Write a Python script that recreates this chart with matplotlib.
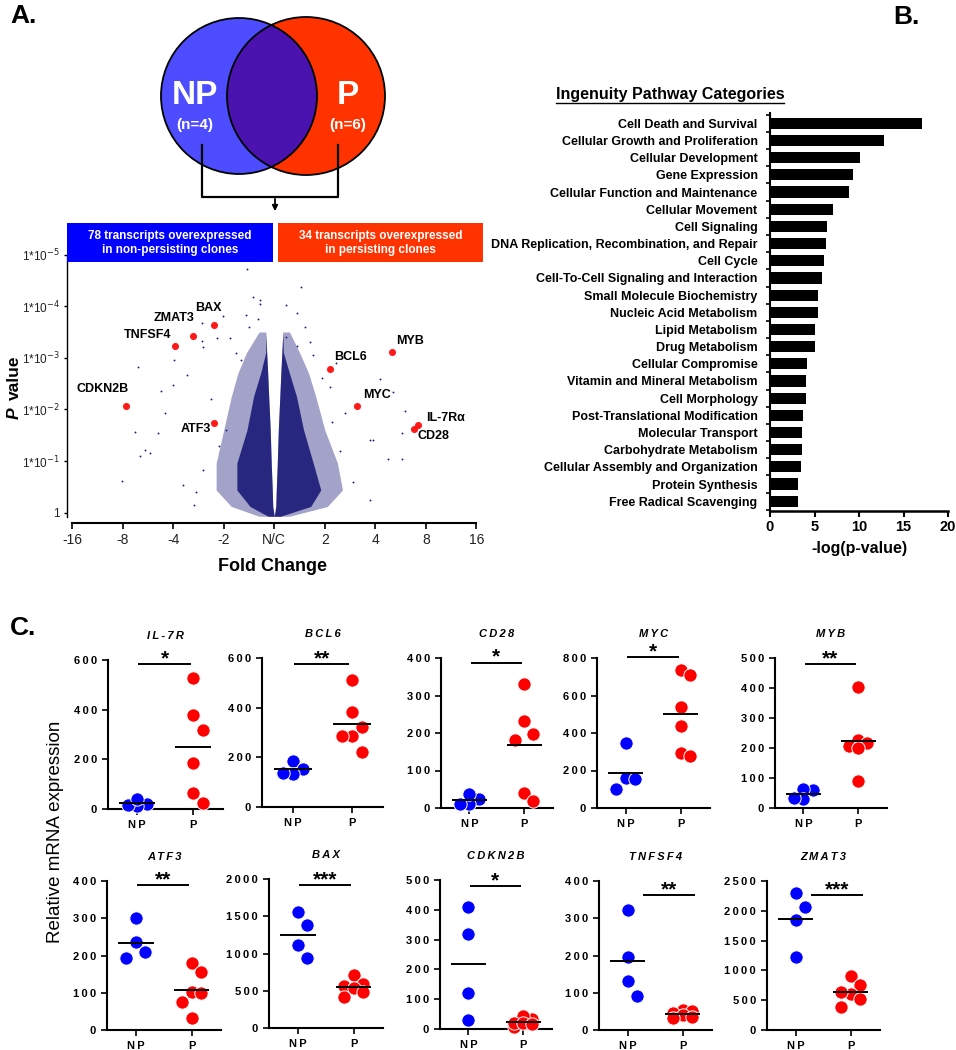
import numpy as np
import matplotlib
matplotlib.use('Agg')
import matplotlib.pyplot as plt
from matplotlib.patches import Circle, Rectangle

plt.rcParams['font.family'] = ['Liberation Sans', 'DejaVu Sans']

W, H = 956, 1050

# ---------------- panel A: volcano plot data ----------------
gene_names = ['BAX', 'ZMAT3', 'TNFSF4', 'CDKN2B', 'ATF3', 'BCL6', 'MYB', 'MYC', 'IL-7Rα', 'CD28']
gene_log2fc = [-1.20, -1.61, -1.96, -2.93, -1.19, 1.10, 2.33, 1.64, 2.84, 2.77]
gene_nlogp = [3.64, 3.43, 3.22, 2.06, 1.74, 2.79, 3.11, 2.06, 1.70, 1.63]

# scattered transcripts outside the dense cloud (signed log2 fold change, -log10 p)
bg_log2fc = [-0.53, 0.53, -0.42, -0.28, -0.28, 0.24, 0.45, -0.55, -0.32, -1.01, -1.42, -0.50,
             -1.14, -0.88, -1.42, -1.40, 0.24, 0.77, 0.44, -2.70, -1.98, -1.73, -2.00, -2.24,
             -2.17, -2.75, -2.29, -1.73, -2.56, -2.65, -2.46, -3.02, -1.59, -1.40, -1.80, 2.09,
             2.35, 2.58, 2.52, 1.96, 1.89, 2.25, 2.52, 1.89, 1.10, 1.40, 1.23, -0.75, 0.95,
             -1.25, 1.30, -0.95, 0.70, -1.55, 1.55, -1.10, 1.15, 0.60, -0.65]
bg_nlogp = [4.71, 4.37, 4.18, 4.12, 4.04, 4.02, 3.87, 3.83, 3.75, 3.80, 3.67, 3.59,
            3.38, 3.39, 3.33, 3.20, 3.40, 3.06, 3.22, 2.83, 2.96, 2.67, 2.48, 2.35,
            1.93, 1.57, 1.54, 1.67, 1.22, 1.10, 1.15, 0.62, 0.14, 0.83, 0.54, 2.59,
            2.33, 1.96, 1.54, 1.41, 1.41, 1.03, 1.04, 0.25, 2.44, 1.93, 2.90, 3.10, 2.60,
            2.20, 1.20, 1.60, 3.30, 0.40, 0.60, 1.30, 1.75, 3.60, 2.95]

# envelope of the dense cloud of transcripts
cloud_nlogp = [-0.07, 0.12, 0.44, 0.96, 1.6, 2.25, 2.7, 3.1, 3.5]
left_outer = [-0.30, -0.85, -1.15, -1.15, -1.00, -0.85, -0.72, -0.55, -0.30]
left_core = [-0.12, -0.48, -0.74, -0.74, -0.54, -0.41, -0.27, -0.17, -0.17]
left_gap = [0.0, -0.03, -0.04, -0.06, -0.08, -0.11, -0.13, -0.15, -0.17]
right_gap = [0.0, 0.03, 0.04, 0.06, 0.08, 0.11, 0.13, 0.15, 0.17]
right_core = [0.12, 0.72, 0.92, 0.77, 0.58, 0.44, 0.30, 0.18, 0.17]
right_outer = [0.30, 1.05, 1.35, 1.25, 1.00, 0.82, 0.68, 0.50, 0.30]

fc_ticks = [-4, -3, -2, -1, 0, 1, 2, 3, 4]
fc_labels = ['-16', '-8', '-4', '-2', 'N/C', '2', '4', '8', '16']
p_labels = ['1', r'1*10$^{-1}$', r'1*10$^{-2}$', r'1*10$^{-3}$', r'1*10$^{-4}$', r'1*10$^{-5}$']

# ---------------- panel B: pathway data ----------------
pathways = ['Cell Death and Survival', 'Cellular Growth and Proliferation', 'Cellular Development',
            'Gene Expression', 'Cellular Function and Maintenance', 'Cellular Movement',
            'Cell Signaling', 'DNA Replication, Recombination, and Repair', 'Cell Cycle',
            'Cell-To-Cell Signaling and Interaction', 'Small Molecule Biochemistry',
            'Nucleic Acid Metabolism', 'Lipid Metabolism', 'Drug Metabolism',
            'Cellular Compromise', 'Vitamin and Mineral Metabolism', 'Cell Morphology',
            'Post-Translational Modification', 'Molecular Transport', 'Carbohydrate Metabolism',
            'Cellular Assembly and Organization', 'Protein Synthesis', 'Free Radical Scavenging']
pathway_scores = [17.1, 12.8, 10.1, 9.3, 8.9, 7.1, 6.4, 6.3, 6.1, 5.8, 5.4, 5.4, 5.0, 5.0,
                  4.2, 4.0, 4.0, 3.7, 3.65, 3.6, 3.5, 3.15, 3.1]

# ---------------- panel C: qPCR data ----------------
qpcr_genes = ['IL-7R', 'BCL6', 'CD28', 'MYC', 'MYB', 'ATF3', 'BAX', 'CDKN2B', 'TNFSF4', 'ZMAT3']
np_values = [[22, 12, 15, 40], [187, 153, 132, 138], [24, 12, 12, 37], [345, 158, 153, 100],
             [60, 62, 29, 32], [300, 235, 210, 192], [1553, 1383, 1114, 935],
             [410, 318, 120, 30], [322, 197, 132, 92], [2293, 2069, 1846, 1230]]
p_values = [[526, 378, 318, 184, 63, 23], [511, 384, 323, 287, 287, 223],
            [332, 232, 197, 181, 39, 20], [736, 709, 540, 437, 292, 279],
            [402, 227, 216, 207, 199, 91], [181, 157, 102, 100, 75, 31],
            [711, 586, 564, 540, 487, 420], [34, 45, 8, 21, 20, 18],
            [55, 52, 45, 40, 35, 33], [911, 755, 599, 643, 515, 391]]
stars = ['*', '**', '*', '*', '**', '**', '***', '*', '**', '***']
y_max = [600, 600, 400, 800, 500, 400, 2000, 500, 400, 2500]
y_step = [200, 200, 100, 200, 100, 100, 500, 100, 100, 500]

# layout of the small panels in pixels: (y-axis x, top, right, bottom)
c_axes_px = [(108, 660, 223, 809), (262, 658, 383, 807), (441, 658, 553, 808),
             (597, 658, 710, 808), (775, 658, 887, 808), (107, 881, 221, 1030),
             (269, 879, 383, 1028), (440, 880, 552, 1029), (599, 881, 712, 1030),
             (767, 881, 880, 1030)]
sig_span = [(0.02, 0.96)] * 8 + [(0.28, 1.23)] * 2
sig_frac = [0.973, 0.96, 0.97, 1.005, 0.96, 0.973, 0.96, 0.96, 0.905, 0.906]

fig = plt.figure(figsize=(W / 100, H / 100), dpi=100)


def px_axes(x0, y0, x1, y1):
    return fig.add_axes([x0 / W, 1 - y1 / H, (x1 - x0) / W, (y1 - y0) / H])


def spaced(s):
    return '\u2009'.join(s)


# ---------------- volcano ----------------
navy = '#1a1a78'
ax = px_axes(67, 254.5, 479, 523)
ax.fill_betweenx(cloud_nlogp, left_outer, left_gap, color=navy, alpha=0.4, linewidth=0)
ax.fill_betweenx(cloud_nlogp, right_gap, right_outer, color=navy, alpha=0.4, linewidth=0)
ax.fill_betweenx(cloud_nlogp, left_core, left_gap, color=navy, alpha=0.9, linewidth=0)
ax.fill_betweenx(cloud_nlogp, right_gap, right_core, color=navy, alpha=0.9, linewidth=0)
ax.scatter(bg_log2fc, bg_nlogp, s=1.8, color=navy, linewidths=0)
ax.scatter(gene_log2fc, gene_nlogp, s=26, color='#ff1a1a', linewidths=0, zorder=3)

label_offsets = {'BAX': (-4, 8, 'center'), 'ZMAT3': (1, 8, 'right'), 'TNFSF4': (-3, 4, 'right'),
                 'CDKN2B': (-17, 8, 'center'), 'ATF3': (-2, -9, 'right'), 'BCL6': (3, 4, 'left'),
                 'MYB': (3, 4, 'left'), 'MYC': (4, 4, 'left'), 'IL-7Rα': (6, 1, 'left'),
                 'CD28': (2, -10, 'left')}
for name, fx, py in zip(gene_names, gene_log2fc, gene_nlogp):
    dx, dy, ha = label_offsets[name]
    ax.annotate(name, (fx, py), xytext=(dx, dy), textcoords='offset points', ha=ha,
                va='bottom', fontsize=9, fontweight='bold')

ax.set_xlim(-4.1, 4.05)
ax.set_ylim(-0.2, 5.0)
ax.spines['top'].set_visible(False)
ax.spines['right'].set_visible(False)
ax.spines['bottom'].set_bounds(-4, 4)
ax.spines['left'].set_bounds(-0.08, 5.0)
ax.spines['bottom'].set_linewidth(1.5)
ax.spines['left'].set_linewidth(1.0)
ax.set_xticks(fc_ticks)
ax.set_xticklabels(fc_labels, fontsize=10, color='#222222')
ax.set_yticks(range(6))
ax.set_yticklabels(p_labels, fontsize=8.5, color='#222222')
ax.tick_params(axis='x', length=4, width=1.2, pad=3)
ax.tick_params(axis='y', length=2, width=1.0, pad=3)
ax.set_xlabel('Fold Change', fontsize=13, fontweight='bold', labelpad=8)

# ---------------- pathway bars ----------------
axb = px_axes(770, 113, 948, 510.7)
axb.barh(range(len(pathways)), pathway_scores, height=0.65, color='black')
axb.set_xlim(0, 20)
axb.set_ylim(len(pathways) - 0.45, -0.6)
axb.set_yticks(range(len(pathways)))
axb.set_yticklabels(pathways, fontsize=9, fontweight='bold')
axb.set_yticks(np.arange(-0.5, len(pathways), 1), minor=True)
axb.tick_params(axis='y', which='major', length=0, pad=9)
axb.tick_params(axis='y', which='minor', length=3, width=1.2)
axb.set_xticks([0, 5, 10, 15, 20])
axb.set_xticklabels(['0', '5', '10', '15', '20'], fontsize=10.5, fontweight='bold')
axb.tick_params(axis='x', length=4, width=1.5, pad=3)
axb.spines['top'].set_visible(False)
axb.spines['right'].set_visible(False)
axb.spines['left'].set_linewidth(1.5)
axb.spines['bottom'].set_linewidth(1.8)
axb.set_xlabel('-log(p-value)', fontsize=11.5, fontweight='bold', labelpad=5)


# ---------------- qPCR dot plots ----------------
def spread(axc, values, step_px, min_px):
    # simple swarm: keep points in the column centre unless they would collide
    order = np.argsort(values)[::-1]
    placed = []
    offs = np.zeros(len(values))
    for i in order:
        ypx = axc.transData.transform((0, values[i]))[1]
        best_k, best_d = 0, -1
        for k in (0, 1, -1):
            d = min([np.hypot(k * step_px - px, ypx - py) for px, py in placed], default=np.inf)
            if d >= min_px:
                best_k = k
                break
            if d > best_d:
                best_k, best_d = k, d
        placed.append((best_k * step_px, ypx))
        offs[i] = best_k
    return offs


for i, gene in enumerate(qpcr_genes):
    x0, y0, x1, y1 = c_axes_px[i]
    axc = px_axes(x0, y0, x1, y1)
    axc.set_xlim(-0.52, 1.53)
    axc.set_ylim(0, y_max[i])
    step = 0.17
    step_px = step * (x1 - x0) / 2.05
    for xc, vals, col in ((0, np_values[i], '#0000ff'), (1, p_values[i], '#ff0000')):
        offs = spread(axc, vals, step_px, 16)
        axc.scatter(xc + offs * step, vals, s=92, color=col, edgecolors='white',
                    linewidths=0.7, zorder=3, clip_on=False)
        m = np.mean(vals)
        axc.plot([xc - 0.32, xc + 0.32], [m, m], color='black', lw=1.4, zorder=4,
                 solid_capstyle='butt')
    sy = sig_frac[i] * y_max[i]
    axc.plot(sig_span[i], [sy, sy], color='black', lw=1.4, clip_on=False,
             solid_capstyle='butt')
    axc.text(np.mean(sig_span[i]), sy, stars[i], ha='center', va='baseline', fontsize=15,
             fontweight='bold', transform=axc.transData)
    ticks = np.arange(0, y_max[i] + 1, y_step[i])
    axc.set_yticks(ticks)
    axc.set_yticklabels([spaced(str(t)) for t in ticks], fontsize=8, fontweight='bold')
    axc.set_xticks([0, 1])
    axc.set_xticklabels([spaced('NP'), 'P'], fontsize=8, fontweight='bold')
    axc.tick_params(length=4, width=1.2, pad=4)
    axc.spines['top'].set_visible(False)
    axc.spines['right'].set_visible(False)
    axc.spines['left'].set_linewidth(1.5)
    axc.spines['bottom'].set_linewidth(1.5)
    axc.set_title(spaced(gene), fontsize=8, fontweight='bold', style='italic', pad=15)

# ---------------- overlay: venn, banners, panel letters ----------------
ov = fig.add_axes([0, 0, 1, 1])
ov.set_xlim(0, W)
ov.set_ylim(H, 0)
ov.axis('off')

left_c = Circle((239, 96), 78, facecolor='#4d4dff', edgecolor='none')
right_c = Circle((306, 96), 79, facecolor='#ff3300', edgecolor='none')
ov.add_patch(left_c)
ov.add_patch(right_c)
mid = Circle((239, 96), 78, facecolor='#4a12ae', edgecolor='none')
ov.add_patch(mid)
mid.set_clip_path(right_c)
ov.add_patch(Circle((239, 96), 78, facecolor='none', edgecolor='black', lw=1.3))
ov.add_patch(Circle((306, 96), 79, facecolor='none', edgecolor='black', lw=1.3))
ov.text(195, 95, 'NP', color='white', fontsize=24, fontweight='bold', ha='center', va='center')
ov.text(195, 125, '(n=4)', color='white', fontsize=11, fontweight='bold', ha='center', va='center')
ov.text(348, 95, 'P', color='white', fontsize=24, fontweight='bold', ha='center', va='center')
ov.text(348, 125, '(n=6)', color='white', fontsize=11, fontweight='bold', ha='center', va='center')
ov.plot([202, 202, 338, 338], [145, 197, 197, 145], color='black', lw=1.6)
ov.annotate('', xy=(275, 214), xytext=(275, 196),
            arrowprops=dict(arrowstyle='-|>', color='black', lw=1.3, mutation_scale=8))

ov.add_patch(Rectangle((67, 223), 206, 39, facecolor='#0000ff', edgecolor='none'))
ov.add_patch(Rectangle((278, 223), 205, 39, facecolor='#ff3300', edgecolor='none'))
ov.text(170, 243, '78 transcripts overexpressed\nin non-persisting clones', color='white',
        fontsize=8.5, fontweight='bold', ha='center', va='center', linespacing=1.15)
ov.text(380.5, 243, '34 transcripts overexpressed\nin persisting clones', color='white',
        fontsize=8.5, fontweight='bold', ha='center', va='center', linespacing=1.15)

ov.text(14, 400, 'value', rotation=90, fontsize=12.5, fontweight='bold', ha='center', va='bottom')
ov.text(14, 407, 'P', rotation=90, fontsize=12.5, fontweight='bold', style='italic',
        ha='center', va='top')

ov.text(56, 832, 'Relative mRNA expression', rotation=90, fontsize=13.5, ha='center',
        va='center')

ov.text(10, 16, 'A.', fontsize=19, fontweight='bold', ha='left', va='center')
ov.text(893, 17, 'B.', fontsize=19, fontweight='bold', ha='left', va='center')
ov.text(10, 628, 'C.', fontsize=19, fontweight='bold', ha='left', va='center')

title_b = ov.text(670, 94, 'Ingenuity Pathway Categories', fontsize=11.5, fontweight='bold',
                  ha='center', va='center')
fig.canvas.draw()
bb = title_b.get_window_extent()
ov.plot([bb.x0, bb.x1], [H - bb.y0 + 1, H - bb.y0 + 1], color='black', lw=1.0)

fig.savefig('out.png', dpi=100)
